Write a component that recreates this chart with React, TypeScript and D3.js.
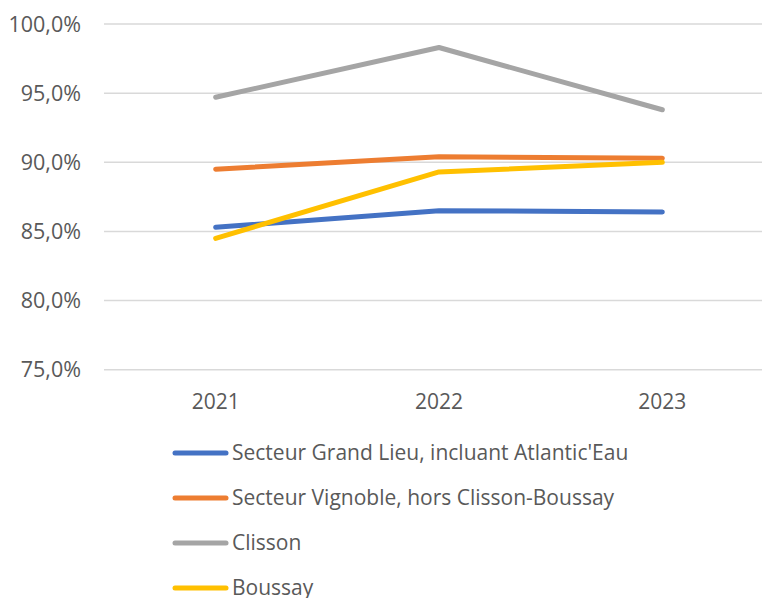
import React from 'react';
import * as d3 from 'd3';

const years = ['2021', '2022', '2023'];
const seriesNames = [
  "Secteur Grand Lieu, incluant Atlantic'Eau",
  'Secteur Vignoble, hors Clisson-Boussay',
  'Clisson',
  'Boussay',
];
const grandLieu = [85.3, 86.5, 86.4];
const vignoble = [89.5, 90.4, 90.3];
const clisson = [94.7, 98.3, 93.8];
const boussay = [84.5, 89.3, 90.0];
const yTicks = [75, 80, 85, 90, 95, 100];
const colors = ['#4472C4', '#ED7D31', '#A5A5A5', '#FFC000'];

const width = 762;
const height = 598;
const font = "'Open Sans', sans-serif";

export default function App() {
  const all = [grandLieu, vignoble, clisson, boussay];
  const x = d3.scaleBand<string>().domain(years).range([104, 774]);
  const y = d3.scaleLinear().domain([75, 100]).range([369.7, 24]);
  const line = d3
    .line<number>()
    .x((_, i) => (x(years[i]) as number) + x.bandwidth() / 2)
    .y((d) => y(d));
  const fmt = (v: number) => v.toFixed(1).replace('.', ',') + '%';

  return (
    <svg
      width={width}
      height={height}
      style={{ position: 'absolute', left: 0, top: 0, background: '#fff' }}
      fontFamily={font}
    >
      {yTicks.map((t) => (
        <g key={t}>
          <line x1={104} x2={774} y1={y(t)} y2={y(t)} stroke="#D9D9D9" strokeWidth={1.5} />
          <text x={81} y={y(t)} dy="0.35em" textAnchor="end" fontSize={21.5} fill="#595959">
            {fmt(t)}
          </text>
        </g>
      ))}
      {years.map((yr) => (
        <text
          key={yr}
          x={(x(yr) as number) + x.bandwidth() / 2}
          y={409}
          textAnchor="middle"
          fontSize={21}
          fill="#595959"
        >
          {yr}
        </text>
      ))}
      {all.map((s, i) => (
        <path
          key={i}
          d={line(s) as string}
          fill="none"
          stroke={colors[i]}
          strokeWidth={5}
          strokeLinecap="round"
          strokeLinejoin="round"
        />
      ))}
      {seriesNames.map((n, i) => {
        const ly = 453 + i * 45;
        return (
          <g key={n}>
            <line x1={175} x2={226} y1={ly} y2={ly} stroke={colors[i]} strokeWidth={5} strokeLinecap="round" />
            <text x={232} y={ly} dy="0.35em" fontSize={21} fill="#595959">
              {n}
            </text>
          </g>
        );
      })}
    </svg>
  );
}
